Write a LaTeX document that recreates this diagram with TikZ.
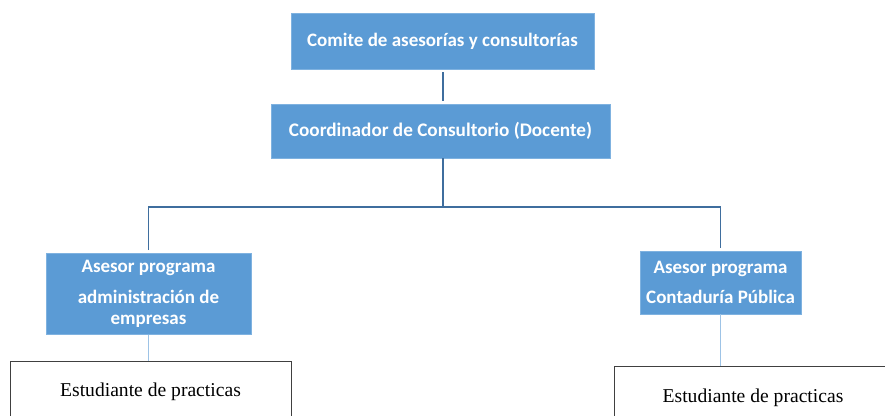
\documentclass[tikz,border=0pt]{standalone}
\usepackage{fontspec}
\usetikzlibrary{calc}
\setmainfont{Carlito}
\newfontfamily\serifface{Liberation Serif}
\definecolor{boxblue}{HTML}{5B9BD5}
\definecolor{edgeblue}{HTML}{7FB2E0}
\definecolor{linkdark}{HTML}{3F6E9E}
\definecolor{linklight}{HTML}{9DC3E6}
\begin{document}
\begin{tikzpicture}[x=1pt,y=-1pt,
  bluebox/.style={draw=edgeblue,line width=0.8pt,fill=boxblue,text=white,align=center,inner sep=0pt,
    font=\bfseries\fontsize{19}{21}\selectfont},
  whitebox/.style={draw=black!75,line width=0.8pt,fill=white,inner sep=0pt,
    font=\serifface\fontsize{19.6}{22}\selectfont},
  darklink/.style={draw=linkdark,line width=1.6pt},
  lightlink/.style={draw=linklight,line width=1pt}]
\useasboundingbox (0,0) rectangle (885,415);
\node[bluebox,minimum width=303pt,minimum height=56pt] (comite) at (442.5,41) {Comite de asesorías y consultorías};
\node[bluebox,minimum width=339pt,minimum height=54pt,font=\bfseries\fontsize{19.2}{22}\selectfont] (coord) at (440.5,131) {Coordinador de Consultorio (Docente)};
\node[bluebox,minimum width=205pt,minimum height=81pt] (adm) at (148.5,294) {Asesor programa\\[10pt]administración de\\empresas};
\node[bluebox,minimum width=161pt,minimum height=63pt] (cont) at (720.5,282.5) {Asesor programa\\[9pt]Contaduría Pública};
\node[whitebox,minimum width=281pt,minimum height=62pt] (est1) at (150.5,392) {Estudiante de practicas};
\node[whitebox,minimum width=278pt,minimum height=64pt] (est2) at (753,398) {Estudiante de practicas};
\coordinate (j) at (443,207);
\draw[darklink] (comite.south -| j) ++(0,3) -- ($(coord.north -| j)+(0,-3)$);
\draw[darklink] (coord.south -| j) -- (j);
\draw[darklink] (adm.north) ++(0,-3) |- (j) -| ($(cont.north)+(0,-3)$);
\draw[lightlink] (adm.south) -- (adm.south |- est1.north);
\draw[lightlink] (cont.south) -- (cont.south |- est2.north);
\end{tikzpicture}
\end{document}
